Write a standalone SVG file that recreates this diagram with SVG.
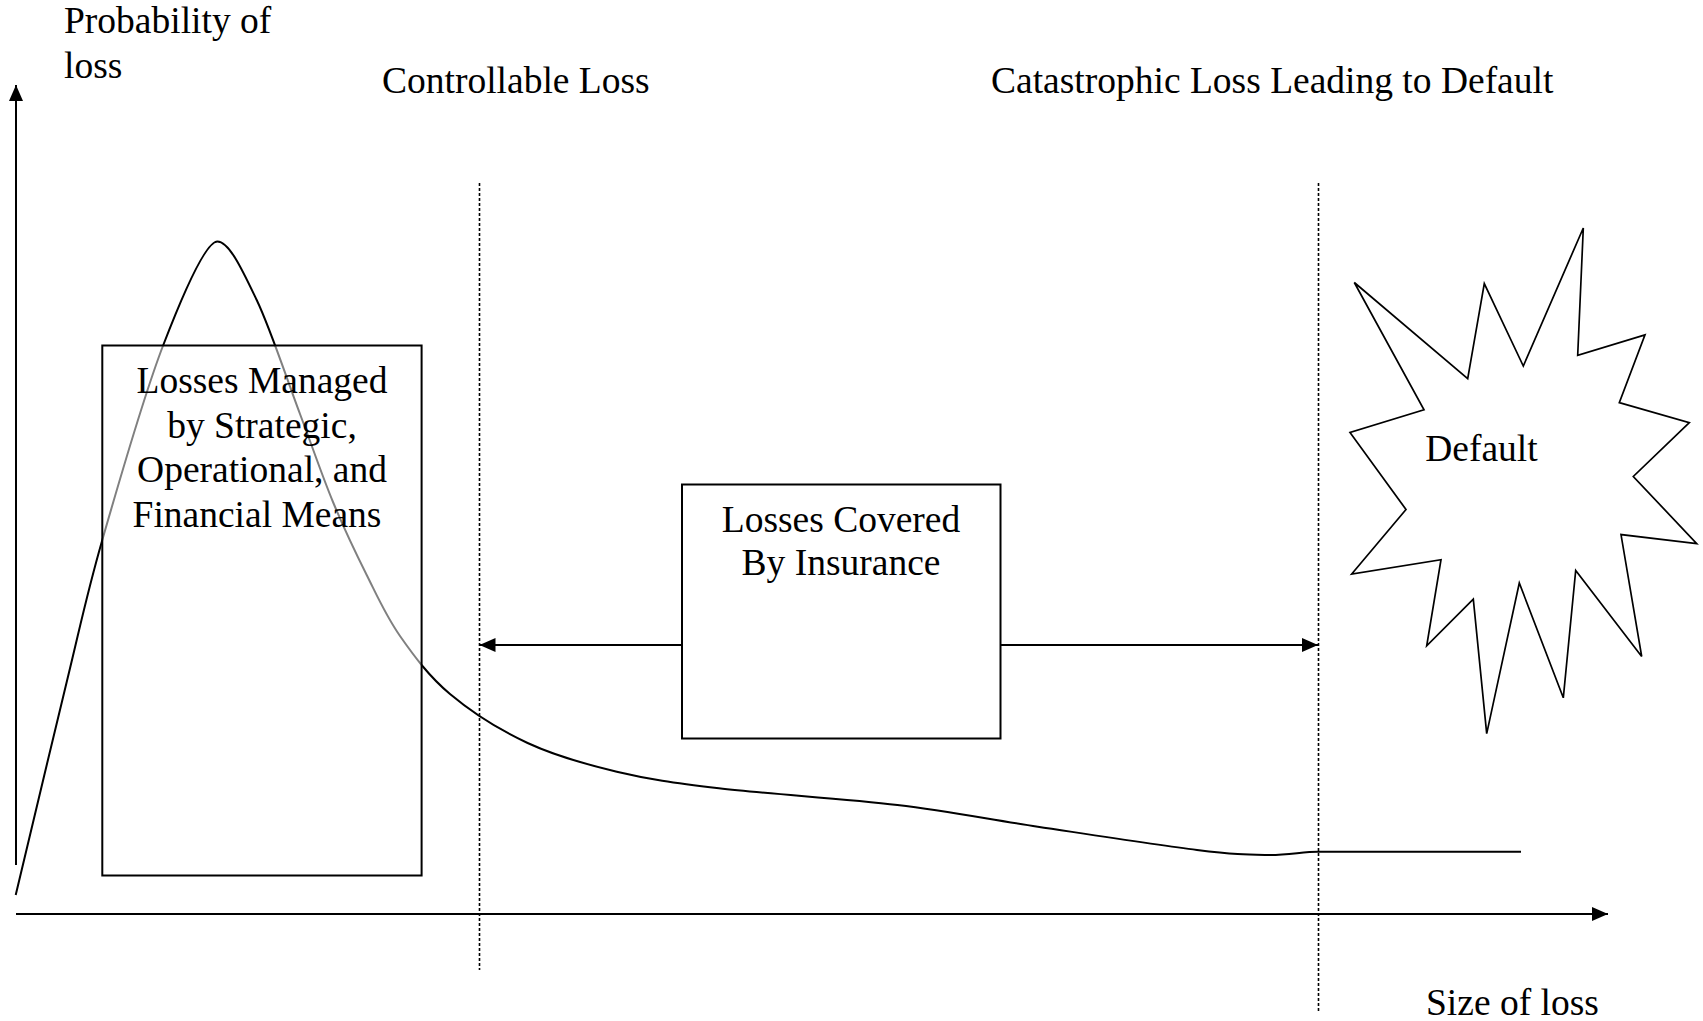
<svg xmlns="http://www.w3.org/2000/svg" width="1703" height="1021" viewBox="0 0 1703 1021">
<style>
text{font-family:"Liberation Serif","Times New Roman",serif;font-size:37.5px;fill:#000}
.mid{text-anchor:middle}
.ln{stroke:#000;stroke-width:2;fill:none}
.dot{stroke:#000;stroke-width:1.6;stroke-dasharray:3 2;fill:none}
.box{stroke:#000;stroke-width:2}
</style>
<defs>
<marker id="ah" markerUnits="userSpaceOnUse" markerWidth="17" markerHeight="14" refX="16" refY="7" orient="auto">
<path d="M0,0 L16,7 L0,14 z" fill="#000"/>
</marker>
</defs>
<rect width="1703" height="1021" fill="#fff"/>
<g id="labels">
<text x="64" y="33">Probability of</text>
<text x="64" y="78">loss</text>
<text x="382" y="93">Controllable Loss</text>
<text x="991" y="93">Catastrophic Loss Leading to Default</text>
<text x="1426" y="1015">Size of loss</text>
</g>
<g id="curve">
<path class="ln" stroke-width="1.8" d="M15.7,895 C24.2,859.5 52.27,741.17 66.7,682 C81.13,622.83 86.2,596.17 102.3,540 C118.4,483.83 144.12,394.75 163.3,345 C182.48,295.25 205.4,241.5 217.4,241.5 C229.4,241.5 242.93,271.25 256.7,300 C270.47,328.75 287.28,380.33 300,414 C312.72,447.67 321.88,475.17 333,502 C344.12,528.83 355.53,552.67 366.7,575 C377.87,597.33 386.12,616.17 400,636 C413.88,655.83 428.73,676.17 450,694 C471.27,711.83 499.8,730.05 527.6,743 C555.4,755.95 584.92,764.15 616.8,771.7 C648.68,779.25 672.13,782.75 718.9,788.3 C765.67,793.85 844.25,798.6 897.4,805 C950.55,811.4 987.87,819.2 1037.8,826.7 C1087.73,834.2 1158.8,845.28 1197,850 C1235.2,854.72 1246.83,854.72 1267,855 C1287.17,855.28 1303,851.7 1318,851.7 L1521,851.7"/>
</g>
<g id="connectors">
<line class="ln" x1="16" y1="865" x2="16" y2="85" marker-end="url(#ah)"/>
<line class="ln" x1="16" y1="914" x2="1608" y2="914" marker-end="url(#ah)"/>
<line class="dot" x1="479.5" y1="183" x2="479.5" y2="970"/>
<line class="dot" x1="1318.5" y1="183" x2="1318.5" y2="1013"/>
<line class="ln" x1="682" y1="645" x2="479.5" y2="645" marker-end="url(#ah)"/>
<line class="ln" x1="1000.5" y1="645" x2="1318" y2="645" marker-end="url(#ah)"/>
</g>
<g id="managed">
<rect class="box" x="102.3" y="345.5" width="319.3" height="530" fill="#fff" fill-opacity="0.5"/>
<text class="mid" x="262" y="393">Losses Managed</text>
<text class="mid" x="262" y="437.5">by Strategic,</text>
<text class="mid" x="262" y="482">Operational, and</text>
<text class="mid" x="257" y="527">Financial Means</text>
</g>
<g id="insurance">
<rect class="box" x="682" y="484.5" width="318.5" height="254" fill="#fff"/>
<text class="mid" x="841" y="531.5">Losses Covered</text>
<text class="mid" x="841" y="575">By Insurance</text>
</g>
<g id="default">
<polygon points="1354.3,282.5 1467.7,378.6 1484.3,283.6 1523.3,366 1583.3,228 1577.7,355.3 1645,334.9 1619.3,402.6 1689.3,422.7 1633.3,476.5 1696.7,543.6 1621,534.6 1641.7,656.5 1575.7,570.5 1563.3,697.8 1519.3,583 1486.7,733.6 1473.3,599.1 1426.7,645.8 1441,559.7 1351.7,574 1406,509.5 1350,432.4 1424,409.8" fill="#fff" stroke="#000" stroke-width="1.7" stroke-linejoin="miter"/>
<text class="mid" x="1481.5" y="461">Default</text>
</g>
</svg>
